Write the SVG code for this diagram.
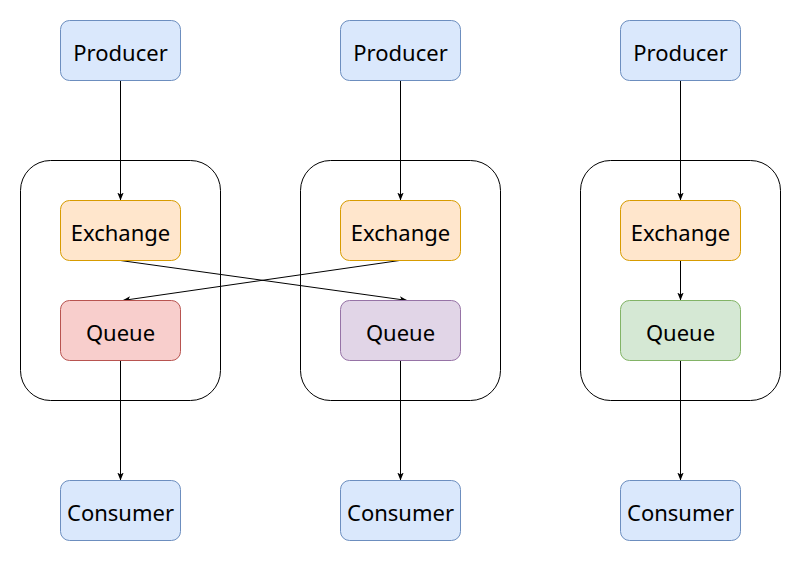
<svg xmlns="http://www.w3.org/2000/svg" width="801" height="561" viewBox="0 0 801 561">
<style>
.t{font-family:"Noto Sans","Liberation Sans",sans-serif;font-size:22px;fill:#000;text-anchor:middle;dominant-baseline:central}
.c{fill:none;stroke:#000;stroke-width:1}
.b{fill:#dae8fc;stroke:#6c8ebf}
.x{fill:#ffe6cc;stroke:#d79b00}
.e{fill:none;stroke:#000;stroke-width:1}
</style>
<defs>
<marker id="a" viewBox="0 0 10 10" refX="10" refY="5" markerWidth="8" markerHeight="8" markerUnits="userSpaceOnUse" orient="auto">
<path d="M0,1 L10,5 L0,9 L2.5,5 Z" fill="#000"/>
</marker>
</defs>
<rect width="801" height="561" fill="#fff"/>
<g transform="translate(0.5,0.5)">
<g id="container1"><rect class="c" x="20" y="160" width="200" height="240" rx="30"/></g>
<g id="container2"><rect class="c" x="300" y="160" width="200" height="240" rx="30"/></g>
<g id="container3"><rect class="c" x="580" y="160" width="200" height="240" rx="30"/></g>
<g id="connectors">
<path class="e" d="M120,80 V200" marker-end="url(#a)"/>
<path class="e" d="M400,80 V200" marker-end="url(#a)"/>
<path class="e" d="M680,80 V200" marker-end="url(#a)"/>
<path class="e" d="M120,260 L407,300" marker-end="url(#a)"/>
<path class="e" d="M399,260 L122,300" marker-end="url(#a)"/>
<path class="e" d="M680,260 V300" marker-end="url(#a)"/>
<path class="e" d="M120,360 V480" marker-end="url(#a)"/>
<path class="e" d="M400,360 V480" marker-end="url(#a)"/>
<path class="e" d="M680,360 V480" marker-end="url(#a)"/>
</g>
<g id="producer1"><rect class="b" x="60" y="20" width="120" height="60" rx="9"/><text class="t" x="120" y="51.5">Producer</text></g>
<g id="producer2"><rect class="b" x="340" y="20" width="120" height="60" rx="9"/><text class="t" x="400" y="51.5">Producer</text></g>
<g id="producer3"><rect class="b" x="620" y="20" width="120" height="60" rx="9"/><text class="t" x="680" y="51.5">Producer</text></g>
<g id="exchange1"><rect class="x" x="60" y="200" width="120" height="60" rx="9"/><text class="t" x="120" y="231.5">Exchange</text></g>
<g id="exchange2"><rect class="x" x="340" y="200" width="120" height="60" rx="9"/><text class="t" x="400" y="231.5">Exchange</text></g>
<g id="exchange3"><rect class="x" x="620" y="200" width="120" height="60" rx="9"/><text class="t" x="680" y="231.5">Exchange</text></g>
<g id="queue1"><rect fill="#f8cecc" stroke="#b85450" x="60" y="300" width="120" height="60" rx="9"/><text class="t" x="120" y="331.5">Queue</text></g>
<g id="queue2"><rect fill="#e1d5e7" stroke="#9673a6" x="340" y="300" width="120" height="60" rx="9"/><text class="t" x="400" y="331.5">Queue</text></g>
<g id="queue3"><rect fill="#d5e8d4" stroke="#82b366" x="620" y="300" width="120" height="60" rx="9"/><text class="t" x="680" y="331.5">Queue</text></g>
<g id="consumer1"><rect class="b" x="60" y="480" width="120" height="60" rx="9"/><text class="t" x="120" y="511.5">Consumer</text></g>
<g id="consumer2"><rect class="b" x="340" y="480" width="120" height="60" rx="9"/><text class="t" x="400" y="511.5">Consumer</text></g>
<g id="consumer3"><rect class="b" x="620" y="480" width="120" height="60" rx="9"/><text class="t" x="680" y="511.5">Consumer</text></g>
</g>
</svg>
